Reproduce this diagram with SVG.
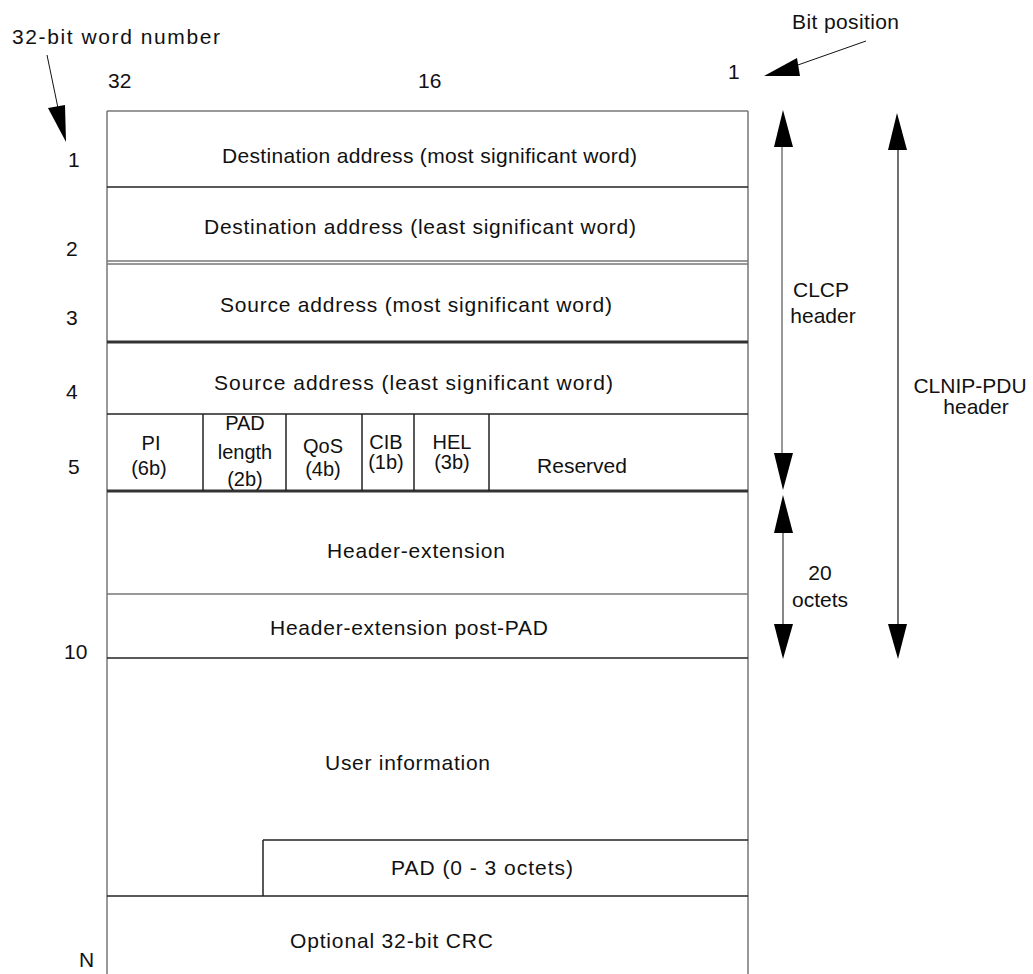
<svg xmlns="http://www.w3.org/2000/svg" width="1033" height="974" viewBox="0 0 1033 974">
<style>
text{font-family:"Liberation Sans",Arial,sans-serif;font-size:21px;fill:#111}
.m{text-anchor:middle}
.s{font-size:20px}
.b{stroke:#222;stroke-width:1.5;fill:none}
.g{stroke:#777;stroke-width:1.5;fill:none}
.t{stroke:#333;stroke-width:3;fill:none}
.h{fill:#000;stroke:none}
</style>
<rect width="1033" height="974" fill="#fff"/>
<g id="labels">
<text x="12" y="44" textLength="208" lengthAdjust="spacing">32-bit word number</text>
<text x="792" y="29" textLength="107" lengthAdjust="spacing">Bit position</text>
<text x="108" y="88">32</text>
<text x="418" y="88">16</text>
<text x="728" y="79">1</text>
<text x="68" y="167">1</text>
<text x="66" y="256">2</text>
<text x="66" y="325">3</text>
<text x="66" y="399">4</text>
<text x="68" y="474">5</text>
<text x="64" y="659">10</text>
<text x="79" y="967">N</text>
</g>
<g id="frame">
<line class="g" x1="107" y1="111" x2="748" y2="111"/>
<line class="g" x1="107" y1="111" x2="107" y2="974"/>
<line class="g" x1="748" y1="111" x2="748" y2="974"/>
</g>
<g id="row1"><line class="b" x1="107" y1="187" x2="748" y2="187"/>
<text x="222" y="163" textLength="415" lengthAdjust="spacing">Destination address (most significant word)</text></g>
<g id="row2"><line class="g" x1="107" y1="261" x2="748" y2="261"/><line class="g" x1="107" y1="264" x2="748" y2="264"/>
<text x="204" y="234" textLength="432" lengthAdjust="spacing">Destination address (least significant word)</text></g>
<g id="row3"><line class="t" x1="107" y1="342" x2="748" y2="342"/>
<text x="220" y="312" textLength="392" lengthAdjust="spacing">Source address (most significant word)</text></g>
<g id="row4"><line class="b" x1="107" y1="414" x2="748" y2="414"/>
<text x="214" y="390" textLength="399" lengthAdjust="spacing">Source address (least significant word)</text></g>
<g id="row5">
<line class="t" x1="107" y1="491" x2="748" y2="491"/>
<line class="b" x1="203" y1="414" x2="203" y2="491"/>
<line class="b" x1="286" y1="414" x2="286" y2="491"/>
<line class="b" x1="362" y1="414" x2="362" y2="491"/>
<line class="b" x1="414" y1="414" x2="414" y2="491"/>
<line class="b" x1="489" y1="414" x2="489" y2="491"/>
<text class="m s" x="151" y="450">PI</text><text class="m s" x="149" y="475">(6b)</text>
<text class="m s" x="245" y="430">PAD</text><text class="m s" x="245" y="459">length</text><text class="m s" x="245" y="486">(2b)</text>
<text class="m s" x="323" y="453">QoS</text><text class="m s" x="323" y="476">(4b)</text>
<text class="m s" x="386" y="449">CIB</text><text class="m s" x="386" y="469">(1b)</text>
<text class="m s" x="452" y="449">HEL</text><text class="m s" x="452" y="469">(3b)</text>
<text class="m" x="582" y="473">Reserved</text>
</g>
<g id="header-extension"><line class="g" x1="107" y1="594" x2="748" y2="594"/>
<text x="327" y="558" textLength="178" lengthAdjust="spacing">Header-extension</text></g>
<g id="post-pad"><line class="b" x1="107" y1="658" x2="748" y2="658"/>
<text x="270" y="635" textLength="278" lengthAdjust="spacing">Header-extension post-PAD</text></g>
<g id="user-info"><text x="325" y="770" textLength="165" lengthAdjust="spacing">User information</text></g>
<g id="pad"><line class="b" x1="263" y1="840" x2="748" y2="840"/><line class="b" x1="263" y1="840" x2="263" y2="896"/>
<text x="391" y="875" textLength="182" lengthAdjust="spacing">PAD (0 - 3 octets)</text></g>
<g id="crc"><line class="b" x1="107" y1="896" x2="748" y2="896"/>
<text x="290" y="948" textLength="203" lengthAdjust="spacing">Optional 32-bit CRC</text></g>
<g id="side-labels">
<text class="m" x="821" y="297">CLCP</text><text class="m" x="823" y="323">header</text>
<text class="m" x="970" y="393">CLNIP-PDU</text><text class="m" x="976" y="414">header</text>
<text class="m" x="820" y="580">20</text><text class="m" x="820" y="607">octets</text>
</g>
<g id="connectors">
<line class="g" x1="782" y1="145" x2="782" y2="455"/>
<polygon class="h" points="783,110 774,147 793,147"/>
<polygon class="h" points="783,490 774,453 793,453"/>
<line stroke="#111" stroke-width="1" x1="783" y1="530" x2="783" y2="627"/>
<polygon class="h" points="783,495 774,533 793,533"/>
<polygon class="h" points="783,659 774,624 793,624"/>
<line stroke="#111" stroke-width="1.2" x1="898" y1="148" x2="898" y2="627"/>
<polygon class="h" points="897,113 888,150 907,150"/>
<polygon class="h" points="898,659 888,624 907,624"/>
<line stroke="#111" stroke-width="1" x1="866" y1="41" x2="795" y2="66"/>
<polygon class="h" points="764,76 800,76 797,58"/>
<line stroke="#111" stroke-width="1" x1="47" y1="55" x2="58" y2="108"/>
<polygon class="h" points="48,108 65,105 66,142"/>
</g>
</svg>
